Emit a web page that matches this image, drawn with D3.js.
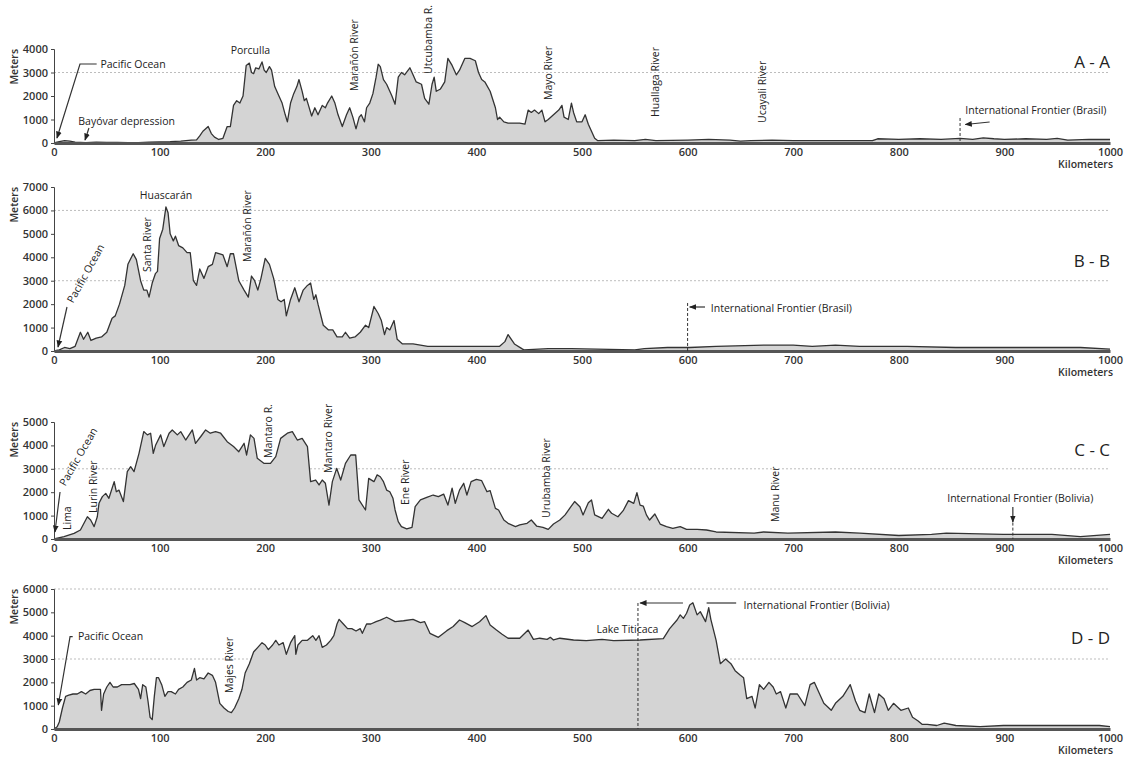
<!DOCTYPE html>
<html>
<head>
<meta charset="utf-8">
<script src="https://cdn.jsdelivr.net/npm/d3@7"></script>
<style>
body { margin: 0; background: #fff; }
text { font-family: "Open Sans", sans-serif; }
</style>
</head>
<body>
<svg id="chart" width="1129" height="757"></svg>
<script>
// elevation profiles, [km, meters]
var profileA = [[0,0],[5,60],[10,100],[15,80],[20,40],[30,20],[40,40],[50,30],[60,30],[70,20],[80,20],[90,40],[100,50],[110,60],[120,80],[130,120],[135,130],[138,300],[141,500],[146,700],[149,400],[152,250],[156,150],[160,200],[164,700],[167,700],[170,1600],[173,1800],[176,1700],[179,2000],[182,3300],[185,3400],[187,3000],[189,2950],[191,3200],[194,3150],[197,3450],[199,3100],[201,3000],[204,3250],[206,3100],[209,2400],[213,2000],[216,1700],[219,1200],[221,900],[224,1700],[227,2100],[230,2400],[232,2700],[235,2200],[237,1800],[239,1900],[241,1600],[244,1150],[247,1500],[250,1200],[254,1600],[257,1500],[259,1700],[263,2000],[266,1700],[269,1200],[273,700],[277,1200],[280,1500],[283,1100],[286,600],[289,1100],[291,1200],[294,900],[296,1500],[299,1700],[302,2100],[305,2800],[307,3350],[309,3250],[312,2700],[315,2500],[318,2200],[320,2000],[323,1650],[326,2800],[329,3000],[332,2900],[337,3200],[340,2900],[343,2600],[348,2500],[351,1900],[355,1650],[358,2500],[360,2800],[362,2200],[366,2300],[370,2600],[373,3600],[377,3300],[381,2900],[384,3100],[389,3600],[394,3600],[399,3500],[402,3000],[405,2700],[408,2600],[413,2200],[418,1500],[420,1000],[422,1100],[426,900],[430,850],[435,850],[441,850],[446,800],[449,1400],[452,1300],[455,1400],[459,1250],[462,1400],[465,900],[468,1000],[473,1200],[478,1400],[481,1600],[483,1100],[487,1000],[490,1700],[492,1300],[495,900],[500,900],[503,1200],[506,800],[509,500],[512,200],[515,100],[530,120],[550,100],[560,150],[570,100],[600,120],[620,150],[640,120],[650,80],[660,100],[680,120],[700,100],[750,100],[775,100],[780,180],[800,150],[820,180],[840,150],[858,200],[870,150],[880,220],[890,180],[900,150],[920,180],[940,150],[950,200],[960,120],[980,150],[1000,150]];

var profileB = [[0,0],[5,50],[10,150],[15,100],[20,200],[25,800],[28,500],[32,800],[35,450],[40,550],[45,600],[50,800],[55,1400],[58,1500],[62,2000],[67,2800],[70,3700],[75,4150],[78,3900],[82,3000],[85,2600],[88,2600],[90,2300],[93,2900],[96,3300],[98,3400],[100,4800],[103,5200],[106,6150],[108,5900],[110,5000],[113,4700],[115,4900],[118,4500],[122,4400],[126,4200],[129,4200],[132,3000],[135,2800],[138,3500],[142,3100],[146,3600],[150,3700],[153,4200],[157,4150],[160,4100],[164,3600],[167,4150],[170,4150],[175,3000],[180,2600],[184,2300],[187,3200],[190,3000],[193,2600],[196,3100],[200,3950],[204,3700],[208,3100],[212,2200],[215,2100],[218,2200],[220,1500],[224,2200],[228,2700],[232,2100],[236,2600],[240,2800],[243,2900],[246,2200],[248,2400],[250,2000],[255,1100],[260,900],[264,900],[268,600],[273,600],[276,800],[280,550],[285,600],[290,800],[295,1100],[298,1000],[303,1900],[307,1600],[310,1300],[313,700],[315,1000],[318,900],[322,1300],[325,500],[330,300],[340,300],[354,200],[377,200],[400,200],[413,200],[422,200],[427,400],[430,700],[436,300],[443,100],[445,50],[468,100],[490,100],[550,50],[559,100],[581,150],[602,150],[627,200],[672,250],[700,250],[718,200],[740,250],[763,200],[808,200],[854,150],[899,150],[945,150],[972,150],[1000,80]];

var profileC = [[0,0],[9.5,100],[19,240],[25,385],[30,810],[31.6,950],[34.7,810],[38,530],[41,950],[42.6,1525],[45.8,1810],[49,1950],[52,1740],[57,2450],[59,2020],[61.5,2090],[65.7,1600],[69.4,2880],[72.6,3090],[75.8,2880],[80.5,3660],[85,4590],[88.4,4450],[91.5,4520],[94,3660],[96.3,4020],[101,4450],[104,3950],[109,4520],[112,4660],[116.8,4450],[120,4590],[124.7,4230],[131,4660],[134,4090],[139,4380],[143.6,4660],[148,4520],[153,4590],[157.8,4520],[164,4160],[170,3950],[175,3730],[180,4090],[182.4,3590],[186,4450],[189.4,4300],[192.5,3450],[199,3230],[205,3230],[210,3520],[214.6,4300],[221,4520],[225.7,4590],[230.4,4230],[235,4300],[240,3950],[243,2450],[247.8,2520],[251,2310],[254,2520],[257,2380],[260.4,1450],[263.6,2450],[267.7,3020],[271.5,2520],[276,3230],[281,3590],[285.7,3590],[288.8,1670],[295,1240],[298,2590],[303,2450],[306,2740],[309,2660],[312,2450],[315,2090],[318,2020],[321,1740],[323,1240],[326,740],[329,530],[334,430],[339,500],[342,1380],[347,1670],[353,1780],[359,1880],[364,1810],[369,1920],[373,1450],[377,2170],[380,1525],[384,2090],[388,2380],[391,1880],[395,2450],[400,2550],[405,2490],[410,2020],[413,2070],[418,1310],[421,1240],[426,810],[430,670],[437,530],[441,600],[448,670],[452,810],[457,555],[463,500],[468,410],[473,640],[479,810],[484,1030],[489,1350],[493,1600],[498,1380],[501,1030],[506,1550],[509,1670],[512,1030],[519,880],[525,1270],[528,1100],[534,950],[539,1210],[544,1640],[549,1525],[552,1980],[555,1450],[558,1410],[561,1030],[564,810],[569,1070],[574,640],[580,530],[586,455],[593,530],[599,410],[609,410],[618,385],[627,300],[663,250],[672,300],[695,250],[740,300],[763,250],[800,150],[831,200],[845,250],[899,200],[945,200],[972,100],[1000,200]];

var profileD = [[0,0],[3,100],[5,300],[8,900],[11,1400],[14,1450],[18,1500],[22,1500],[26,1600],[30,1500],[34,1650],[38,1700],[42,1700],[44,1700],[45,800],[47,1500],[50,1800],[53,2000],[56,1800],[60,1800],[64,1900],[68,1900],[72,1900],[76,1950],[80,1700],[82,1300],[84,1900],[87,1800],[89,1200],[91,500],[93,400],[95,1400],[97,2200],[99,2200],[102,1900],[105,1400],[108,1600],[111,1600],[115,1500],[118,1700],[122,1800],[126,2000],[130,2100],[133,2600],[135,2100],[138,2200],[142,2150],[146,2400],[150,2300],[153,2000],[157,1100],[161,900],[165,750],[168,700],[171,900],[175,1300],[178,1700],[181,2400],[185,2800],[189,3300],[193,3500],[197,3700],[200,3600],[203,3400],[207,3600],[210,3800],[213,3600],[217,3700],[220,3200],[224,3700],[228,4000],[229,3200],[231,3600],[235,3800],[240,3800],[245,4000],[248,3800],[251,4000],[254,3500],[258,3600],[262,3800],[265,4000],[268,4500],[270,4700],[274,4500],[278,4300],[282,4300],[286,4200],[290,4300],[292,4100],[296,4500],[300,4500],[305,4600],[309,4670],[315,4790],[323,4600],[331,4640],[340,4700],[347,4560],[351,4600],[356,4100],[364,3930],[372,4215],[378,4390],[384,4670],[389,4560],[396,4390],[403,4600],[409,4860],[413,4460],[419,4240],[424,4070],[430,3890],[441,3890],[449,4240],[454,3840],[460,3890],[467,3840],[470,3930],[473,3815],[479,3890],[492,3815],[504,3790],[519,3840],[530,3790],[555,3815],[577,3870],[583,4300],[590,4670],[593,4890],[596,4740],[599,4960],[602,5310],[605,5410],[609,4890],[612,5030],[617,4600],[620,5200],[622,4700],[627,3800],[631,2800],[636,3000],[641,2800],[645,2500],[650,2300],[653,2200],[656,1300],[661,1400],[664,900],[668,1900],[672,1700],[677,2000],[681,1800],[684,1500],[688,1600],[693,900],[697,1500],[704,1500],[711,1000],[716,1900],[720,2000],[725,1500],[729,1100],[736,800],[740,1100],[747,1400],[754,1900],[759,1200],[763,800],[768,700],[772,1500],[777,700],[781,1500],[786,1300],[790,800],[795,1100],[802,800],[809,900],[813,500],[818,350],[822,200],[827,200],[836,150],[843,250],[854,150],[877,100],[899,150],[922,150],[945,150],[968,150],[990,150],[1000,100]];

var kmTicks = [0,100,200,300,400,500,600,700,800,900,1000];
var titles = ["A - A","B - B","C - C","D - D"];
var maxes = [4000,7000,5000,6000];

// labels: [text, km, meters, anchor, rotation]
var labelsA = [["Porculla",186,3960,"middle",0],["Marañón River",284,2213,"start",-90],["Utcubamba R.",354,2936,"start",-90],["Mayo River",468,1830,"start",-90],["Huallaga River",569,1106,"start",-90],["Ucayali River",671,851,"start",-90],["Pacific Ocean",44,3361,"start",0],["Bayóvar depression",23,936,"start",0],["International Frontier (Brasil)",863,1404,"start",0]];
var labelsB = [["Huascarán",106,6658,"middle",0],["Santa River",88,3372,"start",-90],["Marañón River",183,3799,"start",-90],["Pacific Ocean",15,2091,"start",-61],["International Frontier (Brasil)",622,1835,"start",0]];
var labelsC = [["Lima",12.3,385,"start",-90],["Pacific Ocean",7.6,2308,"start",-60],["Lurin River",37,1111,"start",-90],["Mantaro R.",202.7,3462,"start",-90],["Mantaro River",259.5,2821,"start",-90],["Ene River",333,1453,"start",-90],["Urubamba River",466,897,"start",-90],["Manu River",683,727,"start",-90],["International Frontier (Bolivia)",915,1752,"middle",0]];
var labelsD = [["Pacific Ocean",22.7,3986,"start",0],["Majes River",165.7,1543,"start",-90],["Lake Titicaca",543,4286,"middle",0],["International Frontier (Bolivia)",653,5314,"start",0]];

// leader lines: points [km, meters], arrow at end, dashed
var leadersA = [{pts:[[40.4,3361],[24.6,3361],[2.8,213]],arrow:true},{pts:[[33.1,638],[29.4,128]],arrow:true},{pts:[[886,894],[863,787]],arrow:true},{pts:[[858,1064],[858,0]],dash:true}];
var leadersB = [{pts:[[12.3,1878],[3.8,171]],arrow:true},{pts:[[616.5,1878],[602,1878]],arrow:true},{pts:[[600,2049],[600,0]],dash:true}];
var leadersC = [{pts:[[5.7,2009],[0.9,299]],arrow:true},{pts:[[908,1368],[908,727]],arrow:true},{pts:[[908,700],[908,0]],dash:true}];
var leadersD = [{pts:[[17.7,3956],[15.2,3956],[4.1,1029]],arrow:true},{pts:[[595.6,5400],[555,5400]],arrow:true},{pts:[[618,5400],[646,5400]]},{pts:[[553,5400],[553,0]],dash:true}];

var panels = [
  {data: profileA, top: 49, base: 143, labels: labelsA, leaders: leadersA, titleM: 3447},
  {data: profileB, top: 187, base: 351, labels: labelsB, leaders: leadersB, titleM: 3841},
  {data: profileC, top: 422, base: 539, labels: labelsC, leaders: leadersC, titleM: 3804},
  {data: profileD, top: 589, base: 729, labels: labelsD, leaders: leadersD, titleM: 3900}
];

var svg = d3.select("#chart");

svg.append("defs").append("marker")
    .attr("id", "arrow")
    .attr("viewBox", "0 0 10 10")
    .attr("refX", 9).attr("refY", 5)
    .attr("markerWidth", 6).attr("markerHeight", 6)
    .attr("orient", "auto")
    .append("path")
    .attr("d", "M0,1 L10,5 L0,9 Z")
    .attr("fill", "#222");

var xScale = d3.scaleLinear().domain([0, 1000]).range([54, 1110]);

panels.forEach(function(p, i) {
    var yScale = d3.scaleLinear().domain([0, maxes[i]]).range([p.base, p.top]);
    var g = svg.append("g");

    // grid every 3000 m
    d3.range(3000, maxes[i] + 1, 3000).forEach(function(v) {
        g.append("line")
            .attr("x1", xScale(0)).attr("x2", xScale(1000))
            .attr("y1", yScale(v)).attr("y2", yScale(v))
            .attr("stroke", "#bdbdbd")
            .attr("stroke-dasharray", "2,2");
    });

    g.append("path")
        .datum(p.data)
        .attr("fill", "#d4d4d4")
        .attr("d", d3.area()
            .x(function(d) { return xScale(d[0]); })
            .y0(yScale(0))
            .y1(function(d) { return yScale(d[1]); }));

    g.append("path")
        .datum(p.data)
        .attr("fill", "none")
        .attr("stroke", "#333")
        .attr("stroke-width", 1.3)
        .attr("stroke-linejoin", "round")
        .attr("d", d3.line()
            .x(function(d) { return xScale(d[0]); })
            .y(function(d) { return yScale(d[1]); }));

    var yAxis = d3.axisLeft(yScale)
        .tickValues(d3.range(0, maxes[i] + 1, 1000))
        .tickSize(3)
        .tickPadding(3)
        .tickFormat(d3.format("d"));
    var ya = g.append("g")
        .attr("transform", "translate(" + xScale(0) + ",0)")
        .call(yAxis);
    ya.select(".domain").attr("stroke", "#444");
    ya.selectAll(".tick line").attr("stroke", "#444");
    ya.selectAll("text").attr("font-size", 11).attr("font-weight", 600).attr("fill", "#333")
        .style("font-family", "'Open Sans', sans-serif");

    var xAxis = d3.axisBottom(xScale).tickValues(kmTicks).tickSize(0).tickPadding(5)
        .tickFormat(d3.format("d"));
    var xa = g.append("g")
        .attr("transform", "translate(0," + yScale(0) + ")")
        .call(xAxis);
    xa.select(".domain").attr("stroke", "#555").attr("stroke-width", 3);
    xa.selectAll("text").attr("font-size", 11).attr("font-weight", 600).attr("fill", "#333")
        .style("font-family", "'Open Sans', sans-serif");

    g.append("text")
        .attr("x", xScale(1000) + 3).attr("y", yScale(0) + 25)
        .attr("text-anchor", "end")
        .attr("font-size", 10.5).attr("font-weight", 600).attr("fill", "#333")
        .text("Kilometers");

    g.append("text")
        .attr("transform", "translate(18," + p.top + ") rotate(-90)")
        .attr("text-anchor", "end")
        .attr("font-size", 10.5).attr("font-weight", 600).attr("fill", "#333")
        .text("Meters");

    g.append("text")
        .attr("x", xScale(1000)).attr("y", yScale(p.titleM))
        .attr("dy", "0.35em")
        .attr("text-anchor", "end")
        .attr("font-size", 17).attr("fill", "#222")
        .text(titles[i]);

    p.leaders.forEach(function(l) {
        var ln = g.append("path")
            .attr("d", d3.line()
                .x(function(d) { return xScale(d[0]); })
                .y(function(d) { return yScale(d[1]); })(l.pts))
            .attr("fill", "none")
            .attr("stroke", "#333")
            .attr("stroke-width", l.dash ? 1 : 1.2);
        if (l.dash) ln.attr("stroke-dasharray", "3,2");
        if (l.arrow) ln.attr("marker-end", "url(#arrow)");
    });

    p.labels.forEach(function(l) {
        g.append("text")
            .attr("transform", "translate(" + xScale(l[1]) + "," + yScale(l[2]) + ") rotate(" + l[4] + ")")
            .attr("dy", "0.35em")
            .attr("text-anchor", l[3])
            .attr("font-size", 10.5)
            .attr("fill", "#222")
            .text(l[0]);
    });
});
</script>
</body>
</html>
